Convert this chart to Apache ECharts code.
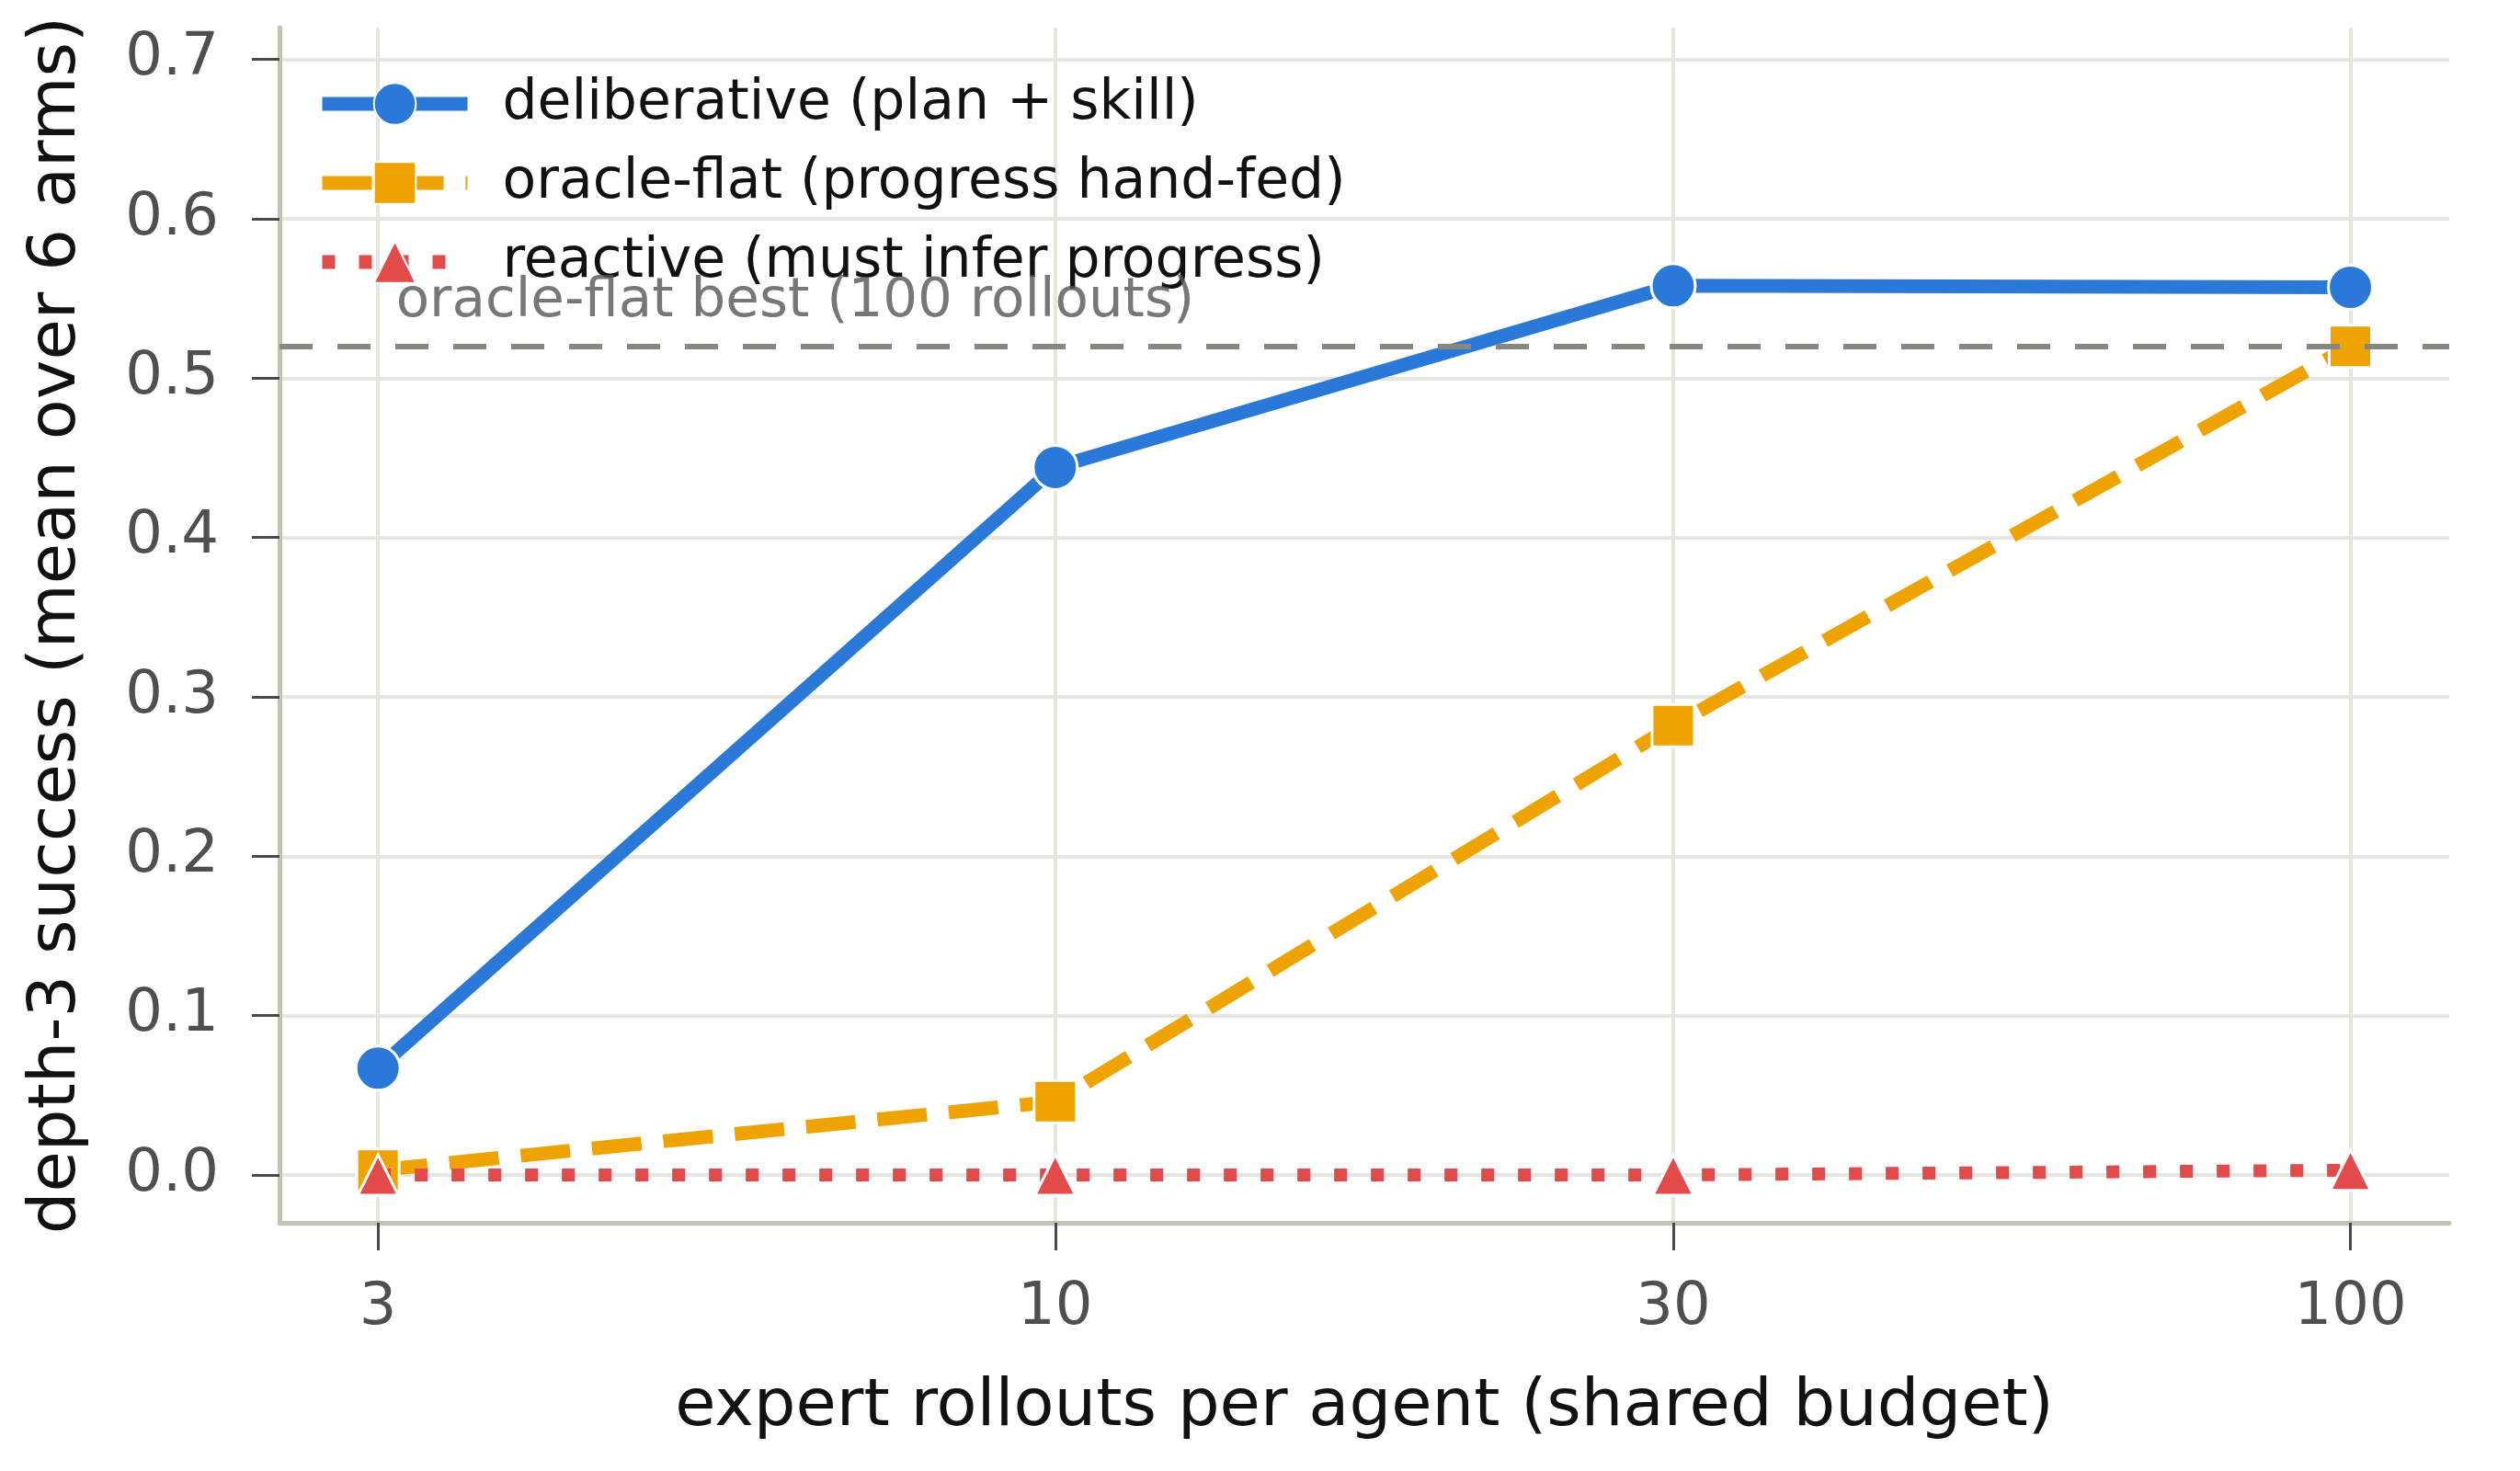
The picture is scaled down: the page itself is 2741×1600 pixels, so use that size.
<!DOCTYPE html>
<html><head><meta charset="utf-8">
<script src="https://cdn.jsdelivr.net/npm/echarts@6/dist/echarts.min.js"></script>
<style>html,body{margin:0;padding:0;background:#fff}#c{width:2741px;height:1600px}</style>
</head><body><div id="c"></div>
<script>
// ---- data ----
const rollouts = [3, 10, 30, 100];
const deliberative = [0.067, 0.444, 0.558, 0.557];
const oracleFlat = [0.003, 0.046, 0.282, 0.52];
const reactive = [0.0, 0.0, 0.0, 0.003];
const oracleBest = 0.52;
const xTicks = [3, 10, 30, 100];
const yTicks = [0, 0.1, 0.2, 0.3, 0.4, 0.5, 0.6, 0.7];
const seriesNames = ['deliberative (plan + skill)', 'oracle-flat (progress hand-fed)', 'reactive (must infer progress)'];
const annotationText = 'oracle-flat best (100 rollouts)';
const annotationAt = [3.1, 0.53];

const FONT = 'DejaVu Sans';
const pairs = vals => rollouts.map((x, i) => [x, vals[i]]);

const chart = echarts.init(document.getElementById('c'), null, {renderer: 'canvas'});
const markerBorder = {borderColor: '#ffffff', borderWidth: 3};

chart.setOption({
  animation: false,
  backgroundColor: '#ffffff',
  grid: {left: 304, right: 77, top: 30, bottom: 270, containLabel: false},
  xAxis: {
    type: 'log', logBase: 10, min: 2.518, max: 119.2,
    name: 'expert rollouts per agent (shared budget)',
    nameLocation: 'middle', nameGap: 165,
    nameTextStyle: {fontFamily: FONT, fontSize: 72, color: '#111111'},
    axisLine: {show: true, onZero: false, lineStyle: {color: '#c3c2b6', width: 5}},
    axisTick: {show: true, inside: false, length: 30, customValues: xTicks, lineStyle: {color: '#4a4a4a', width: 3}},
    axisLabel: {show: true, margin: 61, customValues: xTicks, fontFamily: FONT, fontSize: 64, color: '#4f4f4f',
      formatter: v => String(Math.round(v))},
    splitLine: {show: true, lineStyle: {color: '#e6e5df', width: 4}},
    minorTick: {show: false}, minorSplitLine: {show: false}
  },
  yAxis: {
    type: 'value', min: -0.03, max: 0.72,
    name: 'depth-3 success (mean over 6 arms)',
    nameLocation: 'middle', nameGap: 206,
    nameTextStyle: {fontFamily: FONT, fontSize: 72, color: '#111111'},
    axisLine: {show: true, onZero: false, lineStyle: {color: '#c3c2b6', width: 5}},
    axisTick: {show: true, inside: false, length: 30, customValues: yTicks, lineStyle: {color: '#4a4a4a', width: 3}},
    axisLabel: {show: true, margin: 66, customValues: yTicks, fontFamily: FONT, fontSize: 64, color: '#4f4f4f',
      formatter: v => v.toFixed(1)},
    splitLine: {show: true, lineStyle: {color: '#e6e5df', width: 4}}
  },
  legend: {
    data: seriesNames,
    orient: 'vertical', left: 338, top: 78,
    itemWidth: 158, itemHeight: 57, itemGap: 26,
    lineStyle: {width: 15, type: 'inherit'},
    textStyle: {fontFamily: FONT, fontSize: 60, color: '#111111', padding: [0, 0, 0, 33]}
  },
  series: [
    {
      name: 'best', type: 'line', data: [], z: 1, silent: true,
      markLine: {
        silent: true, symbol: ['none', 'none'], label: {show: false},
        lineStyle: {color: '#878680', width: 6, type: [36, 27]},
        data: [{yAxis: oracleBest}]
      }
    },
    {
      name: seriesNames[0], type: 'line', data: pairs(deliberative), z: 3,
      color: '#2a79d8',
      lineStyle: {width: 15, color: '#2a79d8'},
      symbol: 'circle', symbolSize: 48, showAllSymbol: true,
      itemStyle: Object.assign({color: '#2a79d8'}, markerBorder)
    },
    {
      name: seriesNames[1], type: 'line', data: pairs(oracleFlat), z: 4,
      color: '#eea300',
      lineStyle: {width: 15, color: '#eea300', type: [54, 24]},
      symbol: 'rect', symbolSize: 46, showAllSymbol: true,
      itemStyle: Object.assign({color: '#eea300'}, markerBorder)
    },
    {
      name: seriesNames[2], type: 'line', data: pairs(reactive), z: 5,
      color: '#e34a4a',
      lineStyle: {width: 14, color: '#e34a4a', type: [14, 26]},
      symbol: 'triangle', symbolSize: [44, 44], showAllSymbol: true,
      itemStyle: Object.assign({color: '#e34a4a'}, markerBorder)
    },
    {
      name: 'annotation', type: 'scatter', z: 6, silent: true,
      data: [annotationAt], symbolSize: 1, itemStyle: {color: 'rgba(0,0,0,0)'},
      label: {show: true, formatter: annotationText, position: [0, 0], align: 'left', verticalAlign: 'bottom',
        fontFamily: FONT, fontSize: 59.5, color: '#555555'}
    }
  ]
});
</script></body></html>
